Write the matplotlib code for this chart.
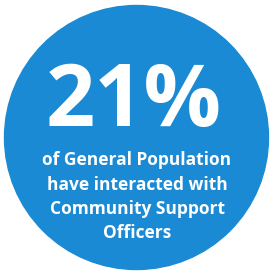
import matplotlib
matplotlib.use("Agg")
import matplotlib.pyplot as plt
from matplotlib.patches import Circle

value_label = "21%"
caption_lines = ["of General Population", "have interacted with", "Community Support", "Officers"]

W, H = 273, 277
fig = plt.figure(figsize=(W/100, H/100), dpi=100)
ax = fig.add_axes([0, 0, 1, 1])
ax.set_xlim(0, W)
ax.set_ylim(H, 0)
ax.axis("off")

ax.add_patch(Circle((136.5, 137.5), 132, color="#1A8AD4"))

ax.text(134, 126, value_label, ha="center", va="baseline", color="white",
        fontsize=62, fontweight="bold", family="Open Sans")

ys = [165, 189.5, 214, 238.5]
for y, line in zip(ys, caption_lines):
    ax.text(137, y, line, ha="center", va="baseline", color="white",
            fontsize=12.5, fontweight="bold", family="Open Sans")

fig.savefig("out.png", dpi=100)
